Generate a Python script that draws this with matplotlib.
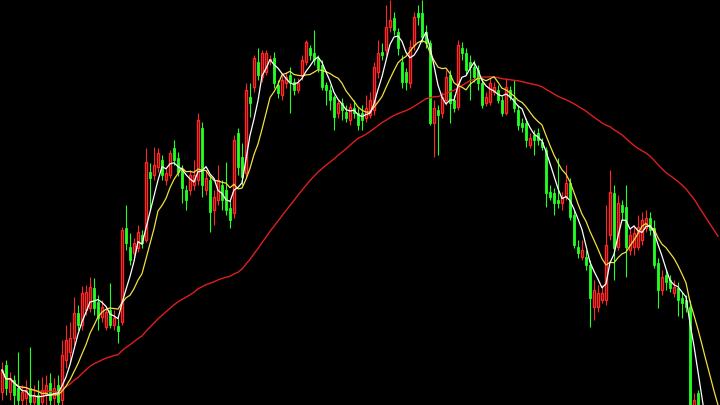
import numpy as np
import pandas as pd
import matplotlib
matplotlib.use("Agg")
import matplotlib.pyplot as plt

# precios OHLC (180 velas)
opens = [108, 135, 108, 120, 112, 100, 102, 112, 98, 105, 98, 105, 117, 102, 115, 100, 140, 148, 162, 187,
         175, 190, 192, 212, 198, 183, 173, 190, 175, 174, 178, 272, 253, 247, 252, 265, 260, 328, 325, 333,
         340, 320, 325, 352, 342, 330, 310, 310, 315, 320, 372, 310, 320, 290, 300, 315, 310, 292, 287, 367,
         343, 327, 403, 413, 438, 423, 428, 440, 442, 415, 405, 417, 425, 418, 410, 425, 438, 452, 447, 442,
         435, 415, 410, 403, 387, 397, 388, 380, 392, 387, 387, 382, 385, 390, 428, 448, 450, 473, 482, 468,
         438, 428, 417, 455, 487, 487, 468, 457, 377, 390, 387, 400, 425, 400, 393, 452, 447, 438, 433, 430,
         417, 397, 398, 408, 410, 400, 387, 410, 402, 390, 377, 377, 355, 365, 367, 358, 350, 308, 307, 300,
         297, 303, 317, 285, 253, 243, 243, 235, 193, 193, 200, 200, 265, 307, 253, 295, 293, 250, 253, 253,
         260, 272, 282, 272, 237, 210, 225, 220, 207, 212, 202, 200, 193, 70, 107, 62, 70, 58, 62, 58]
closes = [130, 112, 122, 105, 100, 108, 110, 98, 105, 95, 110, 115, 100, 112, 98, 145, 160, 162, 187, 175,
          207, 208, 213, 192, 182, 193, 188, 175, 182, 169, 270, 257, 240, 257, 268, 257, 338, 322, 335, 347,
          325, 327, 347, 340, 328, 312, 300, 325, 325, 380, 315, 322, 288, 303, 320, 300, 290, 280, 360, 333,
          323, 410, 397, 442, 425, 447, 447, 441, 417, 407, 420, 423, 418, 410, 417, 440, 458, 445, 440, 432,
          413, 410, 400, 383, 397, 390, 382, 393, 387, 375, 380, 392, 400, 433, 447, 445, 473, 480, 470, 452,
          418, 418, 453, 483, 483, 463, 457, 377, 392, 385, 403, 423, 397, 392, 455, 447, 430, 433, 423, 417,
          395, 403, 417, 413, 400, 387, 413, 403, 392, 375, 373, 360, 362, 360, 360, 353, 307, 303, 297, 297,
          303, 317, 283, 255, 247, 250, 235, 202, 210, 207, 207, 255, 308, 252, 297, 288, 253, 265, 267, 273,
          280, 282, 270, 235, 210, 223, 218, 212, 213, 200, 197, 193, 80, 100, 70, 70, 60, 62, 58, 60]
highs = [138, 140, 128, 125, 148, 115, 120, 153, 115, 120, 123, 125, 127, 122, 125, 160, 175, 178, 203, 195,
         214, 215, 223, 222, 205, 200, 192, 217, 190, 182, 273, 295, 267, 262, 275, 270, 352, 337, 353, 352,
         345, 332, 350, 360, 348, 335, 315, 330, 340, 387, 378, 330, 325, 310, 335, 320, 338, 300, 365, 372,
         357, 417, 417, 445, 452, 450, 450, 445, 448, 420, 425, 428, 433, 422, 422, 445, 460, 455, 470, 445,
         440, 418, 415, 405, 400, 402, 395, 397, 400, 392, 395, 405, 408, 438, 460, 457, 495, 500, 488, 472,
         445, 432, 460, 488, 495, 500, 475, 460, 400, 395, 408, 430, 430, 405, 460, 458, 452, 445, 440, 435,
         422, 408, 422, 418, 415, 404, 422, 414, 420, 395, 382, 382, 367, 370, 372, 362, 353, 315, 312, 342,
         308, 335, 322, 290, 260, 260, 250, 240, 220, 215, 215, 295, 330, 315, 305, 300, 315, 272, 275, 285,
         288, 290, 288, 280, 242, 230, 230, 225, 220, 218, 208, 205, 200, 107, 110, 78, 75, 70, 68, 66]
lows = [100, 105, 100, 95, 95, 95, 95, 95, 92, 90, 92, 95, 95, 95, 95, 95, 132, 138, 155, 170,
        170, 185, 188, 185, 170, 178, 170, 172, 170, 157, 175, 250, 235, 242, 248, 252, 258, 290, 320, 328,
        320, 315, 322, 335, 324, 297, 290, 305, 310, 315, 303, 305, 268, 275, 295, 290, 285, 272, 282, 325,
        315, 322, 383, 408, 420, 418, 425, 435, 412, 402, 400, 412, 387, 405, 407, 420, 435, 440, 435, 428,
        410, 395, 390, 370, 382, 380, 378, 375, 382, 370, 370, 378, 382, 385, 422, 440, 445, 468, 465, 445,
        412, 410, 412, 450, 475, 458, 452, 375, 343, 345, 382, 395, 377, 388, 390, 440, 425, 400, 418, 410,
        392, 394, 395, 405, 397, 384, 385, 400, 388, 370, 368, 353, 352, 345, 355, 350, 293, 300, 285, 292,
        290, 300, 280, 252, 242, 240, 230, 173, 180, 188, 197, 195, 260, 220, 250, 280, 223, 245, 245, 250,
        255, 268, 265, 232, 192, 205, 210, 208, 203, 184, 182, 188, 70, 65, 60, 55, 52, 50, 48, 50]

df = pd.DataFrame({'open': opens, 'close': closes, 'high': highs, 'low': lows})
df['ma5'] = df['close'].rolling(5, min_periods=1).mean()
df['ma10'] = df['close'].rolling(10, min_periods=1).mean()
df['ma60'] = df['close'].rolling(60, min_periods=1).mean()

rojo = '#ff2828'
verde = '#22ff22'

fig = plt.figure(figsize=(7.2, 4.05), dpi=100, facecolor='black')
ax = fig.add_axes([0, 0, 1, 1])
ax.set_facecolor('black')

x = np.arange(len(df))
sube = df['close'] >= df['open']
colores = np.where(sube, rojo, verde)

# mechas
ax.vlines(x, df['low'], df['high'], colors=colores, linewidth=0.8, zorder=1)

# cuerpos: rojo hueco, verde lleno
alto = (df['close'] - df['open']).abs().clip(lower=1.5)
base = df[['open', 'close']].min(axis=1)
ax.bar(x[sube], alto[sube], bottom=base[sube], width=0.7,
       facecolor='#3a0000', edgecolor=rojo, linewidth=1.0, zorder=2)
ax.bar(x[~sube], alto[~sube], bottom=base[~sube], width=0.7,
       facecolor=verde, edgecolor=verde, linewidth=0.6, zorder=2)

# medias moviles
ax.plot(x, df['ma60'], color='#dd1f1f', linewidth=1.0, zorder=3)
ax.plot(x, df['ma10'], color='#f0e040', linewidth=0.9, zorder=4)
ax.plot(x, df['ma5'], color='#ffffff', linewidth=0.9, zorder=5)

ax.set_xlim(-0.5, len(df) - 0.5)
ax.set_ylim(95, 500)
ax.axis('off')

fig.savefig('out.png', dpi=100, facecolor='black')
